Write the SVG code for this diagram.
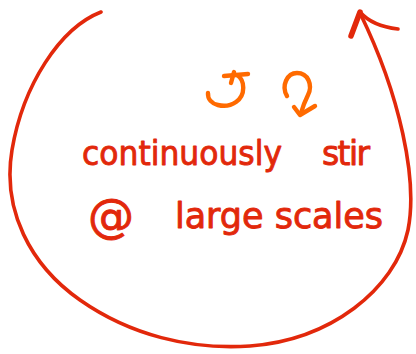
<svg xmlns="http://www.w3.org/2000/svg" width="416" height="354" viewBox="0 0 416 354">
<style>
.red{fill:none;stroke:#e2280b;stroke-width:3.6;stroke-linecap:round;stroke-linejoin:round}
.redb{fill:none;stroke:#e2280b;stroke-width:5.5;stroke-linecap:round;stroke-linejoin:round}
.org{fill:none;stroke:#ff6a00;stroke-width:4.4;stroke-linecap:round;stroke-linejoin:round}
.t{font-family:"DejaVu Sans","Liberation Sans",sans-serif;fill:#e2280b;stroke:#e2280b;stroke-width:0.9;stroke-linejoin:round}
</style>
<rect width="416" height="354" fill="#ffffff"/>
<g id="connectors">
<path class="red" d="M101,12 C60,28 23,85 12,150 C2,210 30,265 80,300 C130,335 190,350 250,346 C330,340 395,290 408,230 C418,180 400,95 360,13"/>
<path class="redb" d="M351,36 L360,12"/>
<path class="red" d="M360,12 Q372,26 398,29"/>
</g>
<g id="stir-ccw">
<path class="org" d="M208,93 C207,106 226,109 236,102 C246,95 245,80 237,75"/>
<path class="org" d="M224,76 L248,74"/>
<path class="org" d="M234,72 L231,83"/>
</g>
<g id="stir-cw">
<path class="org" d="M287,96 C281,86 287,73 297,73 C308,73 313,85 308,95 C305,101 303,106 301,113"/>
<path class="org" d="M294,107 L300,115 L315,106"/>
</g>
<g id="label">
<text class="t" x="82" y="165" font-size="33" textLength="200" lengthAdjust="spacingAndGlyphs">continuously</text>
<text class="t" x="322" y="165" font-size="33" textLength="48" lengthAdjust="spacing">stir</text>
<text class="t" x="88" y="232" font-size="46">@</text>
<text class="t" x="175" y="228" font-size="35" textLength="208" lengthAdjust="spacing">large scales</text>
</g>
</svg>
